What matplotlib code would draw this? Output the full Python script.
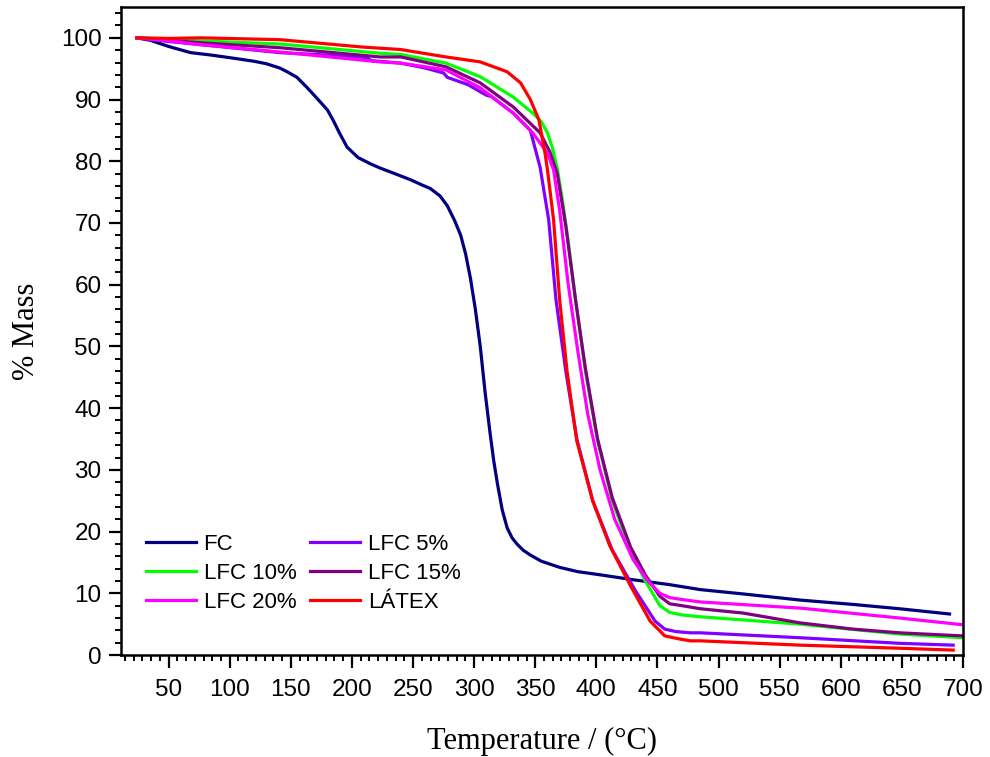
import matplotlib
matplotlib.use("Agg")
import matplotlib.pyplot as plt
from matplotlib.ticker import MultipleLocator, AutoMinorLocator

t_fc = [24, 35, 50, 68, 85, 103, 120, 130, 141, 147, 155, 163, 170, 180, 185, 190, 196, 205, 215, 223,
        235, 248, 258, 264, 272, 278, 284, 289, 293, 297, 301, 305, 309, 313, 316, 319, 323, 327, 331,
        335, 340, 346, 355, 370, 385, 403, 430, 460, 485, 520, 567, 610, 648, 689]
m_fc = [100, 99.6, 98.6, 97.6, 97.2, 96.7, 96.2, 95.8, 95.1, 94.5, 93.6, 92.0, 90.5, 88.3, 86.5, 84.5, 82.3,
        80.6, 79.6, 78.9, 78.0, 77.0, 76.1, 75.6, 74.4, 72.8, 70.4, 68.0, 65.0, 61.0, 56.0, 50.0, 42.5,
        36.0, 31.5, 27.8, 23.5, 20.6, 19.0, 18.0, 17.0, 16.2, 15.2, 14.2, 13.5, 13.0, 12.2, 11.4, 10.6,
        9.9, 8.9, 8.2, 7.5, 6.65]

t_5 = [24, 40, 76, 141, 190, 212, 216, 240, 260, 275, 278, 295, 310, 314, 332, 346, 354, 361, 367, 375,
       384, 397, 413, 432, 448, 456, 465, 477, 485, 567, 648, 692]
m_5 = [100, 99.6, 98.9, 97.6, 97.1, 96.8, 96.3, 95.9, 95.1, 94.3, 93.6, 92.4, 90.7, 90.5, 87.8, 85.0,
       79.0, 70.5, 57.5, 46.0, 35.0, 25.0, 17.0, 10.4, 5.5, 4.2, 3.8, 3.6, 3.6, 2.8, 1.9, 1.6]

t_10 = [24, 50, 76, 141, 223, 240, 277, 305, 332, 348, 355, 360, 364, 368, 372, 377, 383, 391, 401, 413,
        428, 440, 452, 460, 470, 485, 567, 648, 700]
m_10 = [100, 99.8, 99.5, 99.0, 97.5, 97.3, 95.9, 93.7, 90.4, 87.8, 86.4, 84.6, 82.2, 78.8, 74.0, 67.0,
        57.5, 46.0, 34.7, 25.0, 16.9, 12.0, 8.0, 6.9, 6.5, 6.2, 5.0, 3.4, 2.8]

t_15 = [24, 50, 76, 141, 223, 240, 277, 305, 332, 354, 362, 368, 375, 383, 391, 401, 413, 428, 440, 452,
        460, 470, 485, 520, 567, 610, 648, 700]
m_15 = [100, 99.6, 99.2, 98.4, 96.9, 96.9, 95.3, 92.7, 88.8, 84.6, 81.5, 78.0, 69.5, 57.5, 46.5, 35.0,
        25.5, 17.5, 13.0, 9.5, 8.3, 8.0, 7.5, 6.8, 5.2, 4.2, 3.6, 3.1]

t_20 = [24, 50, 76, 141, 223, 240, 277, 305, 332, 348, 360, 365, 370, 377, 385, 393, 403, 415, 430, 442,
        452, 460, 470, 485, 567, 648, 700]
m_20 = [100, 99.5, 98.9, 97.7, 96.1, 95.9, 94.8, 91.9, 87.8, 84.6, 81.3, 78.6, 72.0, 60.0, 49.0, 39.0,
        30.0, 22.0, 15.5, 12.0, 10.0, 9.3, 9.0, 8.6, 7.6, 6.0, 4.9]

t_latex = [24, 50, 76, 141, 158, 209, 240, 277, 305, 327, 338, 346, 353, 358, 360, 365, 370, 376, 384,
           397, 411, 428, 444, 456, 468, 477, 485, 567, 648, 692]
m_latex = [100, 99.9, 100, 99.7, 99.4, 98.5, 98.1, 96.9, 96.1, 94.5, 92.7, 90.0, 86.7, 81.3, 78.6, 70.5,
           57.5, 46.0, 34.7, 25.0, 17.7, 11.2, 5.5, 3.1, 2.6, 2.3, 2.3, 1.6, 1.1, 0.8]

series = [
    ("FC", t_fc, m_fc, "#000080"),
    ("LFC 5%", t_5, m_5, "#8000FF"),
    ("LFC 10%", t_10, m_10, "#00FF00"),
    ("LFC 15%", t_15, m_15, "#800080"),
    ("LFC 20%", t_20, m_20, "#FF00FF"),
    ("LÁTEX", t_latex, m_latex, "#FF0000"),
]

fig = plt.figure(figsize=(9.9, 7.57), dpi=100)
ax = fig.add_axes([0.1222, 0.1347, 0.8505, 0.8561])

lineas = {}
for lab, t, m, c in series:
    lineas[lab], = ax.plot(t, m, color=c, lw=2.3, label=lab, solid_joinstyle="round")

ax.set_xlim(11, 700)
ax.set_ylim(0, 105)
ax.set_xticks(range(50, 701, 50))
ax.xaxis.set_minor_locator(AutoMinorLocator(7))
ax.yaxis.set_major_locator(MultipleLocator(10))
ax.yaxis.set_minor_locator(AutoMinorLocator(5))

for s in ax.spines.values():
    s.set_linewidth(1.8)
ax.tick_params(which="major", direction="out", length=9, width=1.6, labelsize=17.5, pad=5)
ax.tick_params(axis="x", which="major", pad=8)
ax.tick_params(which="minor", direction="out", length=4.5, width=1.4)
for lbl in ax.get_xticklabels() + ax.get_yticklabels():
    lbl.set_family("Liberation Sans")

ax.set_xlabel("Temperature / (°C)", family="Liberation Serif", fontsize=22, labelpad=19)
ax.set_ylabel("% Mass", family="Liberation Serif", fontsize=22, labelpad=14)

# leyenda en dos columnas: FC, 10, 20 | 5, 15, latex
handles = [lineas[l] for l in ["FC", "LFC 10%", "LFC 20%", "LFC 5%", "LFC 15%", "LÁTEX"]]
ax.legend(handles=handles, ncol=2, frameon=False, loc="lower left",
          bbox_to_anchor=(0.0055, 0.034), prop={"family": "Liberation Sans", "size": 16},
          handlelength=2.25, handletextpad=0.36, columnspacing=0.6, labelspacing=0.37)

plt.savefig("out.png", dpi=100)
